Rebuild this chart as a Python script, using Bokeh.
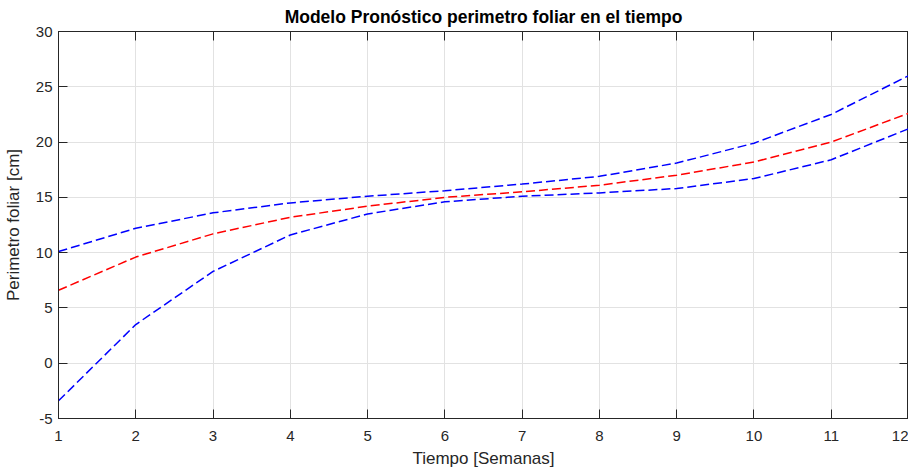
from bokeh.plotting import figure
from bokeh.models import LinearAxis, Range1d, FixedTicker
from bokeh.embed import file_html
from bokeh.resources import INLINE

semanas = [1, 2, 3, 4, 5, 6, 7, 8, 9, 10, 11, 12]
limite_superior = [10.1, 12.2, 13.6, 14.5, 15.1, 15.6, 16.2, 16.9, 18.1, 19.9, 22.5, 26.0]
pronostico = [6.6, 9.6, 11.7, 13.2, 14.2, 15.0, 15.5, 16.1, 17.0, 18.2, 20.0, 22.6]
limite_inferior = [-3.4, 3.5, 8.3, 11.6, 13.5, 14.6, 15.1, 15.4, 15.8, 16.7, 18.4, 21.2]
x_ticks = [1, 2, 3, 4, 5, 6, 7, 8, 9, 10, 11, 12]
y_ticks = [-5, 0, 5, 10, 15, 20, 25, 30]
y_tick_labels = {-5: "-5"}

FONT = "Liberation Sans"
AX = "#262626"

p = figure(frame_width=850, frame_height=387, output_backend="svg", toolbar_location=None,
           x_range=Range1d(1, 12), y_range=Range1d(-5, 30),
           min_border_left=0, min_border_top=0, min_border_right=0, min_border_bottom=0,
           title="Modelo Pronóstico perimetro foliar en el tiempo")
p.title.align = "center"
p.title.text_font = FONT
p.title.text_font_size = "17.5px"
p.title.text_font_style = "bold"
p.title.text_color = "#000000"
p.title.standoff = 9
p.outline_line_color = AX
p.outline_line_width = 1

for ax in (p.xaxis[0], p.yaxis[0]):
    ax.major_tick_in = 9
    ax.major_tick_out = 0
    ax.minor_tick_in = 0
    ax.minor_tick_out = 0
    ax.axis_line_color = AX
    ax.major_tick_line_color = AX
    ax.major_label_text_font = FONT
    ax.major_label_text_font_size = "15px"
    ax.major_label_text_color = AX
    ax.axis_label_text_font = FONT
    ax.axis_label_text_font_size = "17px"
    ax.axis_label_text_font_style = "normal"
    ax.axis_label_text_color = AX

p.xaxis[0].ticker = FixedTicker(ticks=x_ticks)
p.yaxis[0].ticker = FixedTicker(ticks=y_ticks)
p.yaxis[0].major_label_overrides = y_tick_labels
p.xaxis[0].axis_label = "Tiempo [Semanas]"
p.yaxis[0].axis_label = "Perimetro foliar [cm]"
p.xaxis[0].axis_label_standoff = 5
p.yaxis[0].axis_label_standoff = 10
p.xaxis[0].major_label_standoff = 12
p.yaxis[0].major_label_standoff = 6

top = LinearAxis(ticker=FixedTicker(ticks=x_ticks), major_tick_in=9, major_tick_out=0,
                 minor_tick_in=0, minor_tick_out=0,
                 major_label_overrides={t: "" for t in x_ticks},
                 axis_line_color=AX, major_tick_line_color=AX, major_label_standoff=0)
right = LinearAxis(ticker=FixedTicker(ticks=y_ticks), major_tick_in=9, major_tick_out=0,
                   minor_tick_in=0, minor_tick_out=0,
                   major_label_overrides={t: "" for t in y_ticks},
                   axis_line_color=AX, major_tick_line_color=AX, major_label_standoff=0)
p.add_layout(top, "above")
p.add_layout(right, "right")

p.xgrid.ticker = FixedTicker(ticks=x_ticks)
p.ygrid.ticker = FixedTicker(ticks=y_ticks)
p.grid.grid_line_color = "#e2e2e2"
p.grid.grid_line_width = 1

p.line(semanas, limite_superior, line_color="#0000ff", line_width=1.5, line_dash="9 4")
p.line(semanas, pronostico, line_color="#ff0000", line_width=1.5, line_dash="9 4")
p.line(semanas, limite_inferior, line_color="#0000ff", line_width=1.5, line_dash="9 4")

open("out.html", "w").write(file_html(p, INLINE))
